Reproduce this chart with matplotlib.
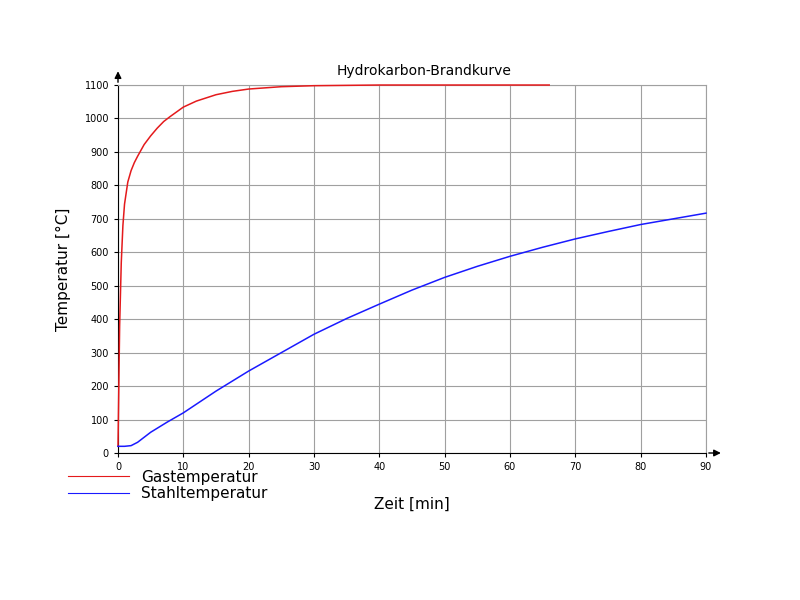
import matplotlib
matplotlib.use("Agg")
import matplotlib.pyplot as plt

gas_t = [0, 0.25, 0.5, 0.75, 1, 1.5, 2, 2.5, 3, 4, 5, 6, 7, 8, 10, 12, 15, 17.5, 20, 25, 30, 40, 50, 66]
gas_T = [20, 380, 569, 680, 744, 810, 844, 868, 887, 922, 948, 971, 991, 1006, 1034, 1052, 1071, 1081, 1088, 1095, 1098, 1100, 1100, 1100]
st_t = [0, 1, 2, 3, 4, 5, 7.5, 10, 15, 20, 25, 30, 35, 40, 45, 50, 55, 60, 65, 70, 75, 80, 85, 90]
st_T = [20, 20, 22, 32, 47, 62, 92, 120, 185, 245, 300, 355, 402, 445, 487, 525, 558, 588, 615, 640, 662, 683, 700, 717]
xticks = list(range(0, 91, 10))
yticks = list(range(0, 1101, 100))

fig = plt.figure(figsize=(8, 6), dpi=100)
ax = fig.add_axes([0.1475, 0.245, 0.735, 0.6133])
ax.plot(gas_t, gas_T, color="#e41a1c", lw=1.1, label="Gastemperatur", clip_on=False, zorder=5)
ax.plot(st_t, st_T, color="#1a1aff", lw=1.1, label="Stahltemperatur", clip_on=False, zorder=5)
ax.set_xlim(0, 90)
ax.set_ylim(0, 1100)
ax.set_xticks(xticks)
ax.set_yticks(yticks)
ax.tick_params(labelsize=7, length=3)
ax.grid(True, color="#a0a0a0", lw=0.8)
ax.set_axisbelow(True)
for s in ["top", "right"]:
    ax.spines[s].set_color("#a0a0a0")
ax.spines["left"].set_color("black")
ax.spines["bottom"].set_color("black")
ax.annotate("", xy=(0, 1.045), xytext=(0, 1.0), xycoords="axes fraction",
            arrowprops=dict(arrowstyle="-|>", color="black", lw=1), annotation_clip=False)
ax.annotate("", xy=(1.03, 0), xytext=(1.0, 0), xycoords="axes fraction",
            arrowprops=dict(arrowstyle="-|>", color="black", lw=1), annotation_clip=False)
ax.set_title("Hydrokarbon-Brandkurve", fontsize=10, pad=7, x=0.52)
ax.set_xlabel("Zeit [min]", fontsize=11, labelpad=18)
ax.set_ylabel("Temperatur [°C]", fontsize=11, labelpad=10)
leg = fig.legend(loc="lower left", bbox_to_anchor=(0.068, 0.142), frameon=False, fontsize=11,
                 handlelength=4.0, labelspacing=0.1)
for h in leg.get_lines():
    h.set_linewidth(0.8)
fig.savefig("out.png", dpi=100, facecolor="white")
